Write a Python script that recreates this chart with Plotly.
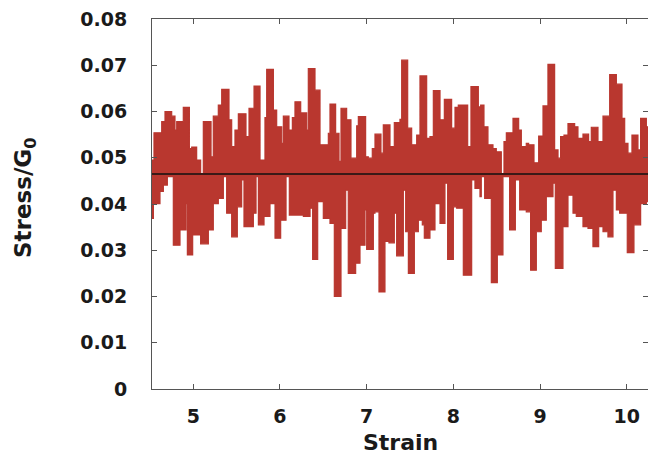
import plotly.graph_objects as go

# Upper envelope of the stress signal (step segments: strain where a level starts, stress level)
upper_strain = [4.524, 4.547, 4.636, 4.674, 4.751, 4.789, 4.809, 4.885, 4.955, 4.982,
                5.039, 5.085, 5.116, 5.205, 5.231, 5.289, 5.328, 5.412, 5.443, 5.481,
                5.520, 5.608, 5.643, 5.701, 5.770, 5.827, 5.847, 5.924, 5.962, 6.020,
                6.039, 6.104, 6.143, 6.173, 6.239, 6.308, 6.327, 6.404, 6.462, 6.558,
                6.577, 6.642, 6.681, 6.704, 6.769, 6.819, 6.885, 6.904, 6.988, 7.019,
                7.065, 7.096, 7.165, 7.192, 7.269, 7.319, 7.384, 7.404, 7.473, 7.519,
                7.577, 7.615, 7.692, 7.730, 7.769, 7.846, 7.896, 7.980, 8.019, 8.057,
                8.165, 8.203, 8.288, 8.315, 8.353, 8.399, 8.457, 8.495, 8.553, 8.584,
                8.611, 8.688, 8.753, 8.784, 8.841, 8.868, 8.930, 8.984, 9.034, 9.091,
                9.168, 9.207, 9.237, 9.276, 9.322, 9.399, 9.437, 9.495, 9.560, 9.591,
                9.668, 9.726, 9.803, 9.880, 9.945, 9.976, 10.014, 10.060, 10.129, 10.160,
                10.226, 10.245]
upper_stress = [0.0495, 0.0554, 0.0578, 0.0600, 0.0590, 0.0560, 0.0578, 0.0609, 0.0520, 0.0523,
                0.0495, 0.0466, 0.0578, 0.0502, 0.0590, 0.0614, 0.0648, 0.0582, 0.0524, 0.0560,
                0.0595, 0.0546, 0.0607, 0.0655, 0.0495, 0.0587, 0.0691, 0.0603, 0.0567, 0.0531,
                0.0590, 0.0560, 0.0587, 0.0621, 0.0597, 0.0560, 0.0693, 0.0646, 0.0528, 0.0553,
                0.0616, 0.0553, 0.0492, 0.0607, 0.0582, 0.0499, 0.0569, 0.0589, 0.0502, 0.0499,
                0.0520, 0.0551, 0.0510, 0.0571, 0.0524, 0.0576, 0.0583, 0.0711, 0.0564, 0.0528,
                0.0549, 0.0677, 0.0542, 0.0546, 0.0645, 0.0582, 0.0626, 0.0564, 0.0609, 0.0614,
                0.0524, 0.0654, 0.0610, 0.0614, 0.0567, 0.0528, 0.0520, 0.0513, 0.0466, 0.0535,
                0.0554, 0.0585, 0.0560, 0.0524, 0.0531, 0.0528, 0.0489, 0.0547, 0.0612, 0.0702,
                0.0517, 0.0499, 0.0546, 0.0549, 0.0574, 0.0567, 0.0542, 0.0551, 0.0535, 0.0566,
                0.0535, 0.0590, 0.0680, 0.0659, 0.0585, 0.0531, 0.0510, 0.0549, 0.0517, 0.0585,
                0.0567, 0.0567]

# Lower envelope of the stress signal
lower_strain = [4.524, 4.540, 4.616, 4.655, 4.701, 4.770, 4.847, 4.916, 4.932, 4.993,
                5.085, 5.174, 5.231, 5.289, 5.347, 5.385, 5.443, 5.508, 5.558, 5.585,
                5.693, 5.724, 5.751, 5.816, 5.885, 5.943, 6.008, 6.070, 6.108, 6.270,
                6.347, 6.377, 6.435, 6.500, 6.577, 6.627, 6.704, 6.758, 6.788, 6.873,
                6.923, 6.981, 7.000, 7.077, 7.096, 7.142, 7.211, 7.257, 7.319, 7.346,
                7.423, 7.450, 7.481, 7.550, 7.596, 7.642, 7.665, 7.730, 7.788, 7.846,
                7.903, 7.934, 8.000, 8.038, 8.115, 8.211, 8.249, 8.307, 8.322, 8.361,
                8.438, 8.507, 8.572, 8.649, 8.715, 8.765, 8.841, 8.891, 8.957, 9.014,
                9.072, 9.149, 9.176, 9.264, 9.322, 9.380, 9.418, 9.495, 9.553, 9.610,
                9.676, 9.726, 9.783, 9.841, 9.880, 9.918, 10.006, 10.083, 10.160, 10.226,
                10.245]
lower_stress = [0.0369, 0.0401, 0.0427, 0.0441, 0.0459, 0.0311, 0.0344, 0.0401, 0.0290, 0.0333,
                0.0314, 0.0344, 0.0401, 0.0412, 0.0459, 0.0380, 0.0329, 0.0394, 0.0452, 0.0351,
                0.0380, 0.0459, 0.0355, 0.0373, 0.0401, 0.0326, 0.0365, 0.0459, 0.0376, 0.0373,
                0.0391, 0.0280, 0.0405, 0.0369, 0.0358, 0.0200, 0.0347, 0.0430, 0.0250, 0.0272,
                0.0311, 0.0387, 0.0302, 0.0380, 0.0383, 0.0210, 0.0319, 0.0316, 0.0380, 0.0288,
                0.0430, 0.0340, 0.0250, 0.0340, 0.0365, 0.0355, 0.0326, 0.0344, 0.0401, 0.0358,
                0.0445, 0.0280, 0.0394, 0.0391, 0.0246, 0.0452, 0.0434, 0.0416, 0.0459, 0.0412,
                0.0230, 0.0290, 0.0459, 0.0344, 0.0452, 0.0387, 0.0383, 0.0257, 0.0340, 0.0365,
                0.0416, 0.0445, 0.0261, 0.0351, 0.0419, 0.0380, 0.0373, 0.0351, 0.0347, 0.0308,
                0.0351, 0.0340, 0.0329, 0.0430, 0.0387, 0.0380, 0.0295, 0.0355, 0.0401, 0.0405,
                0.0405]

# Mean stress line
mean_strain = [4.524, 10.245]
mean_stress = [0.0465, 0.0465]

y_ticks = [0, 0.01, 0.02, 0.03, 0.04, 0.05, 0.06, 0.07, 0.08]
y_tick_labels = ["0", "0.01", "0.02", "0.03", "0.04", "0.05", "0.06", "0.07", "0.08"]
x_ticks = [5, 6, 7, 8, 9, 10]

RED = "#b9372f"
FONT = "DejaVu Sans"
TXT = "#1a1a1a"

fig = go.Figure()
fig.add_trace(go.Scatter(x=lower_strain, y=lower_stress, mode="lines",
                         line=dict(color=RED, width=1.2, shape="hv", simplify=False),
                         showlegend=False, hoverinfo="skip"))
fig.add_trace(go.Scatter(x=upper_strain, y=upper_stress, mode="lines",
                         line=dict(color=RED, width=1.2, shape="hv", simplify=False),
                         fill="tonexty", fillcolor=RED,
                         showlegend=False, hoverinfo="skip"))
fig.add_trace(go.Scatter(x=mean_strain, y=mean_stress, mode="lines",
                         line=dict(color="#111111", width=1.5),
                         showlegend=False, hoverinfo="skip"))

fig.update_layout(
    width=648, height=468,
    margin=dict(l=152, r=0, t=19, b=79, autoexpand=False),
    paper_bgcolor="white", plot_bgcolor="white",
    font=dict(family=FONT, color=TXT),
    xaxis=dict(range=[4.524, 10.245], tickvals=x_ticks, automargin=False,
               ticks="inside", ticklen=5, tickcolor="#555555",
               showline=True, linecolor="#555555", linewidth=1, mirror="allticks",
               showgrid=False, zeroline=False, ticklabeloverflow="allow",
               tickfont=dict(family=FONT, size=19, color=TXT, weight="bold"),
               ticklabelstandoff=10),
    yaxis=dict(range=[0, 0.08], tickvals=y_ticks, ticktext=y_tick_labels, automargin=False,
               ticks="inside", ticklen=5, tickcolor="#555555",
               showline=True, linecolor="#555555", linewidth=1, mirror="allticks",
               showgrid=False, zeroline=False, ticklabeloverflow="allow",
               tickfont=dict(family=FONT, size=19, color=TXT, weight="bold"),
               ticklabelstandoff=20),
    annotations=[
        dict(text="<b>Strain</b>", xref="paper", yref="paper", x=0.5, y=0,
             yshift=-53, xanchor="center", yanchor="middle", showarrow=False,
             font=dict(family=FONT, size=22, color=TXT)),
        dict(text="<b>Stress/G<sub>0</sub></b>", xref="paper", yref="paper", x=0, y=0.5,
             xshift=-127, yshift=6, xanchor="center", yanchor="middle", showarrow=False,
             textangle=-90, font=dict(family=FONT, size=23, color=TXT)),
    ],
)

# Remove the default 8 px page margin so the 648x468 figure fills the window exactly.
fig.write_html("out.html", config={"displayModeBar": False},
               post_script="document.body.style.margin='0px';")
